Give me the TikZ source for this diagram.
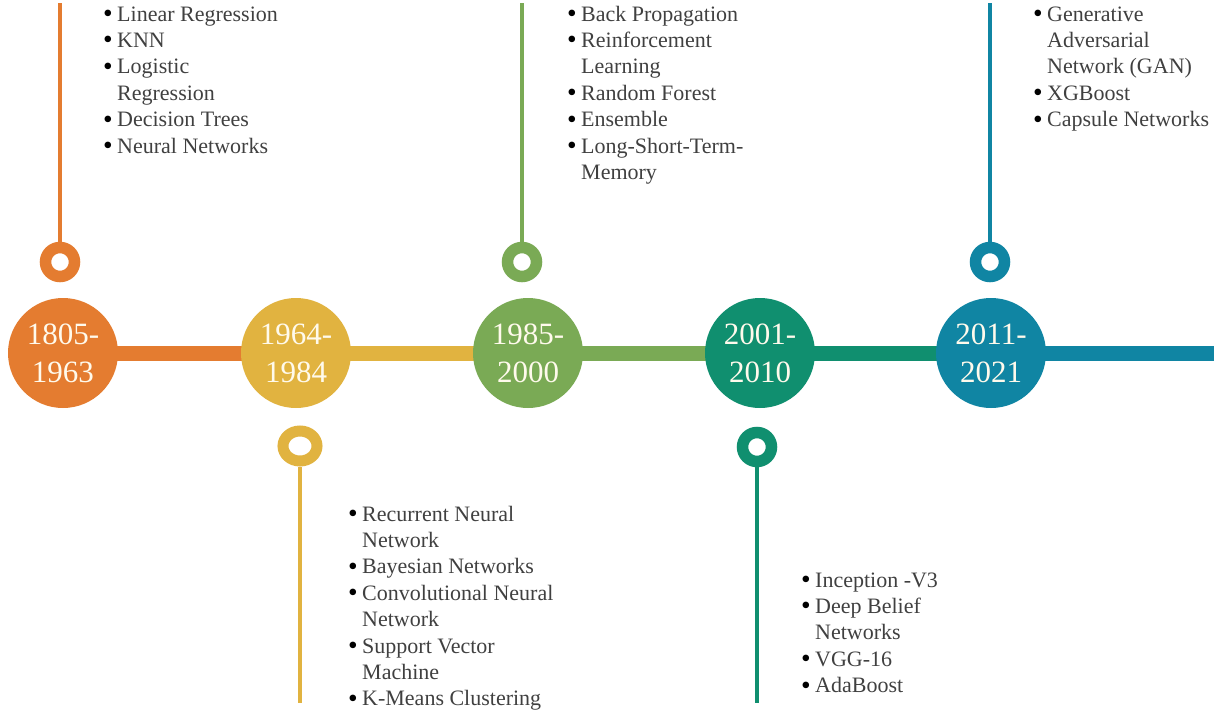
\documentclass[tikz,border=0pt]{standalone}
\usepackage{graphicx}
\usepackage{fontspec}
\setmainfont{Liberation Serif}
\usetikzlibrary{backgrounds,shapes.geometric}
\definecolor{corange}{RGB}{228,124,48}
\definecolor{cgold}{RGB}{225,179,64}
\definecolor{cgreen}{RGB}{122,170,85}
\definecolor{cteal}{RGB}{16,143,111}
\definecolor{cblue}{RGB}{16,133,163}
\definecolor{txt}{RGB}{64,64,64}
\definecolor{cream}{RGB}{255,250,236}
\newcommand{\itm}[1]{\makebox[14pt][l]{\color{black}\raisebox{-1.5pt}{\scalebox{1.25}{\textbullet}}}#1}
\newcommand{\cnt}[1]{\hspace*{14pt}#1}
\newenvironment{itemcol}{\begin{tabular}[t]{@{}l@{}}}{\end{tabular}}
\begin{document}
\begin{tikzpicture}[x=1pt,y=-1pt,
  era/.style={circle,fill=#1,minimum size=110pt,inner sep=0pt,text=cream,align=center,font=\fontsize{31}{38}\selectfont},
  pin/.style={circle,draw=#1,fill=white,line width=11.5pt,minimum size=29pt,inner sep=0pt},
  pinell/.style={ellipse,draw=#1,fill=white,line width=11pt,minimum width=34pt,minimum height=30pt,inner sep=0pt},
  stem/.style={draw=#1,line width=3.5pt},
  bar/.style={draw=#1,line width=15pt},
  items/.style={anchor=base west,inner sep=0pt,text=txt,font=\fontsize{22}{26.4}\selectfont}]
\useasboundingbox (0,0) rectangle (1227,715);
% era circles
\node[era=corange] (c1) at (63,353) {1805-\\1963};
\node[era=cgold]   (c2) at (296,353) {1964-\\1984};
\node[era=cgreen]  (c3) at (528,353) {1985-\\2000};
\node[era=cteal]   (c4) at (760,353) {2001-\\2010};
\node[era=cblue]   (c5) at (991,353) {2011-\\2021};
\coordinate (lineend) at (1214,353);
\begin{scope}[on background layer]
  \draw[bar=corange] (c1.center) -- (c2.center);
  \draw[bar=cgold]   (c2.center) -- (c3.center);
  \draw[bar=cgreen]  (c3.center) -- (c4.center);
  \draw[bar=cteal]   (c4.center) -- (c5.center);
  \draw[bar=cblue]   (c5.center) -- (lineend);
\end{scope}
% pins
\node[pin=corange]   (p1) at (60,262) {};
\node[pinell=cgold]  (p2) at (300,446) {};
\node[pin=cgreen]    (p3) at (522,262) {};
\node[pin=cteal]     (p4) at (757,447) {};
\node[pin=cblue]     (p5) at (990,262) {};
\coordinate (t1) at (60,3);
\coordinate (t3) at (522,3);
\coordinate (t5) at (990,3);
\coordinate (b2) at (300,703);
\coordinate (b4) at (757,703);
\draw[stem=corange] (p1.north) -- (t1);
\draw[stem=cgreen]  (p3.north) -- (t3);
\draw[stem=cblue]   (p5.north) -- (t5);
\draw[stem=cgold]   (p2.south) -- (b2);
\draw[stem=cteal]   (p4.south) -- (b4);
% item lists
\node[items] (l1) at (103,21) {\begin{itemcol}\itm{Linear Regression}\\\itm{KNN}\\\itm{Logistic}\\\cnt{Regression}\\\itm{Decision Trees}\\\itm{Neural Networks}\end{itemcol}};
\node[items] (l2) at (348,521) {\begin{itemcol}\itm{Recurrent Neural}\\\cnt{Network}\\\itm{Bayesian Networks}\\\itm{Convolutional Neural}\\\cnt{Network}\\\itm{Support Vector}\\\cnt{Machine}\\\itm{K-Means Clustering}\end{itemcol}};
\node[items] (l3) at (567,21) {\begin{itemcol}\itm{Back Propagation}\\\itm{Reinforcement}\\\cnt{Learning}\\\itm{Random Forest}\\\itm{Ensemble}\\\itm{Long-Short-Term-}\\\cnt{Memory}\end{itemcol}};
\node[items] (l4) at (801,587) {\begin{itemcol}\itm{Inception -V3}\\\itm{Deep Belief}\\\cnt{Networks}\\\itm{VGG-16}\\\itm{AdaBoost}\end{itemcol}};
\node[items] (l5) at (1033,21) {\begin{itemcol}\itm{Generative}\\\cnt{Adversarial}\\\cnt{Network (GAN)}\\\itm{XGBoost}\\\itm{Capsule Networks}\end{itemcol}};
\end{tikzpicture}
\end{document}
